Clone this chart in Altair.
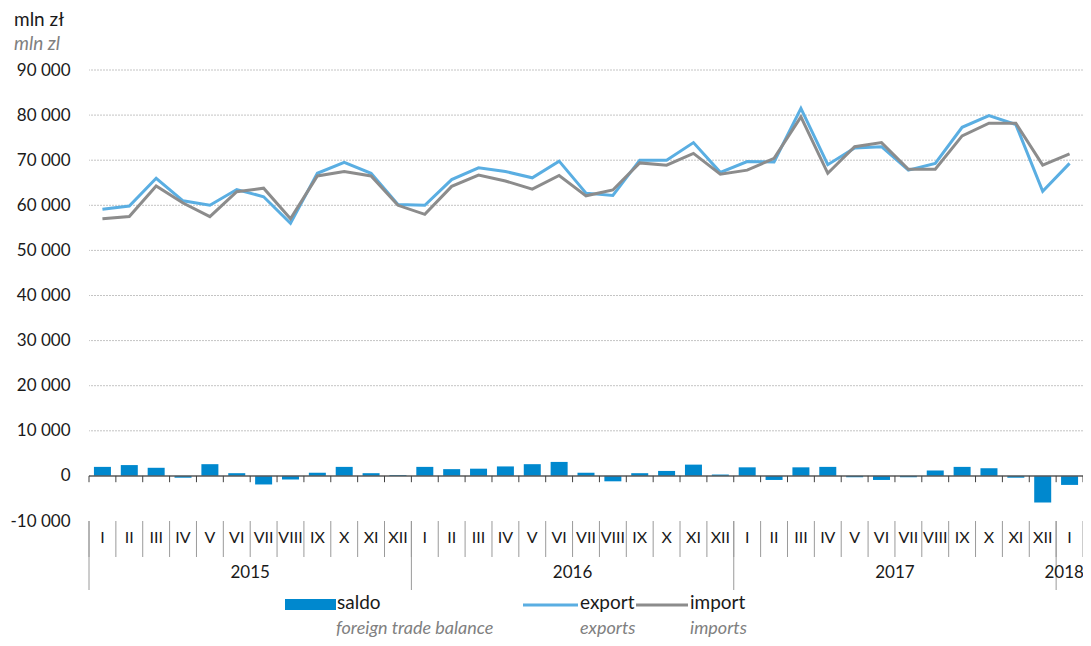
import altair as alt
import pandas as pd

# ---- data ----
months = ["I", "II", "III", "IV", "V", "VI", "VII", "VIII", "IX", "X", "XI", "XII"]
month_labels = months * 3 + ["I"]
years = ["2015", "2016", "2017", "2018"]
year_centers = [6, 18, 30, 36.3]
year_bounds = [0, 12, 24, 36]

export = [59100, 59850, 66000, 61000, 60000, 63500, 61900, 56000, 67100, 69500, 67100, 60200,
          60000, 65700, 68300, 67500, 66100, 69800, 62700, 62200, 70000, 70000, 73900, 67300,
          69700, 69600, 81500, 69000, 72700, 73000, 67800, 69300, 77300, 79900, 77900, 63100, 69300]
imports = [57000, 57500, 64300, 60500, 57500, 63000, 63800, 57000, 66500, 67500, 66500, 60000,
           58000, 64200, 66700, 65400, 63600, 66600, 62100, 63400, 69400, 68900, 71500, 66900,
           67800, 70400, 79600, 67100, 73000, 73900, 68000, 68000, 75400, 78200, 78200, 68900, 71400]
saldo = [2000, 2400, 1800, -400, 2600, 600, -1900, -800, 700, 2000, 600, 200,
         2000, 1500, 1600, 2100, 2600, 3100, 700, -1200, 600, 1100, 2500, 300,
         1900, -900, 1900, 2000, -300, -900, -300, 1200, 2000, 1700, -400, -5900, -2000]
y_ticks = list(range(-10000, 90001, 10000))
grid_values = list(range(10000, 90001, 10000))

# ---- styling ----
FONT = "Lato, sans-serif"
W, H = 994, 451
N = len(export)
C_BAR = "#0088CE"
C_EXP = "#5AAEE2"
C_IMP = "#8C8C8C"
C_TXT = "#1a1a1a"
C_IT = "#808080"

df = pd.DataFrame({"pos": [i + 0.5 for i in range(N)], "export": export,
                   "import": imports, "saldo": saldo, "month": month_labels})
bounds = pd.DataFrame({"k": list(range(N + 1))})
ybounds = pd.DataFrame({"k": year_bounds})
ydf = pd.DataFrame({"c": year_centers, "year": years})
gdf = pd.DataFrame({"g": grid_values})
one = pd.DataFrame({"a": [0]})

xs = alt.Scale(domain=[0, N], nice=False, zero=False, padding=0)
ys = alt.Scale(domain=[-10000, 90000], nice=False, zero=False, padding=0)

grid = alt.Chart(gdf).mark_rule(color="#C4C4C4", strokeWidth=1, strokeDash=[2, 1]).encode(
    y=alt.Y("g:Q", scale=ys))

bars = alt.Chart(df).mark_bar(size=17, color=C_BAR).encode(
    x=alt.X("pos:Q", scale=xs, axis=None),
    y=alt.Y("saldo:Q", scale=ys, axis=alt.Axis(
        values=y_ticks,
        labelExpr="(datum.value < 0 ? '-' : '') + replace(format(abs(datum.value), ','), ',', ' ')",
        domain=False, ticks=False, grid=False, labelPadding=19, labelFontSize=17,
        labelColor=C_TXT, labelFont=FONT, title=None)),
    y2=alt.datum(0))

zero = alt.Chart(one).mark_rule(color="#595959", strokeWidth=1.5).encode(
    y=alt.Y("a:Q", scale=ys))

zticks = alt.Chart(bounds).mark_rule(color="#404040", strokeWidth=1).encode(
    x=alt.X("k:Q", scale=xs), y=alt.datum(0), y2=alt.datum(-1400))

line_exp = alt.Chart(df).mark_line(color=C_EXP, strokeWidth=3).encode(
    x=alt.X("pos:Q", scale=xs), y=alt.Y("export:Q", scale=ys))
line_imp = alt.Chart(df).mark_line(color=C_IMP, strokeWidth=3).encode(
    x=alt.X("pos:Q", scale=xs), y=alt.Y("import:Q", scale=ys))

seps = alt.Chart(bounds).mark_rule(color="#9A9A9A", strokeWidth=1).encode(
    x=alt.X("k:Q", scale=xs), y=alt.value(H), y2=alt.value(H + 36))
yseps = alt.Chart(ybounds).mark_rule(color="#9A9A9A", strokeWidth=1).encode(
    x=alt.X("k:Q", scale=xs), y=alt.value(H), y2=alt.value(H + 69))

mlab = alt.Chart(df).mark_text(font=FONT, fontSize=16, color=C_TXT, baseline="middle").encode(
    x=alt.X("pos:Q", scale=xs), y=alt.value(H + 17), text="month:N")
ylab = alt.Chart(ydf).mark_text(font=FONT, fontSize=17, color=C_TXT, baseline="middle").encode(
    x=alt.X("c:Q", scale=xs), y=alt.value(H + 52), text="year:N")

# unit title
t1 = alt.Chart(one).mark_text(text="mln zł", font=FONT, fontSize=19, color=C_TXT,
                              align="left", baseline="middle").encode(x=alt.value(-75), y=alt.value(-50))
t2 = alt.Chart(one).mark_text(text="mln zl", font=FONT, fontSize=19, fontStyle="italic", color=C_IT,
                              align="left", baseline="middle").encode(x=alt.value(-75), y=alt.value(-26))

# legend
sw_y, lg_y, lg_y2 = 535, 533, 564
sw_bar = alt.Chart(one).mark_rect(color=C_BAR).encode(
    x=alt.value(196), x2=alt.value(247), y=alt.value(sw_y - 6), y2=alt.value(sw_y + 5))
sw_exp = alt.Chart(one).mark_rule(color=C_EXP, strokeWidth=3).encode(
    x=alt.value(434), x2=alt.value(489), y=alt.value(sw_y))
sw_imp = alt.Chart(one).mark_rule(color=C_IMP, strokeWidth=3).encode(
    x=alt.value(547), x2=alt.value(599), y=alt.value(sw_y))


def ltxt(txt, x, y, italic=False):
    return alt.Chart(one).mark_text(text=txt, font=FONT, fontSize=18 if italic else 19,
                                    fontStyle="italic" if italic else "normal",
                                    color=C_IT if italic else C_TXT,
                                    align="left",
                                    baseline="alphabetic" if italic else "middle").encode(
        x=alt.value(x), y=alt.value(y))


legend = [sw_bar, sw_exp, sw_imp,
          ltxt("saldo", 248, lg_y), ltxt("foreign trade balance", 247, lg_y2, True),
          ltxt("export", 491, lg_y), ltxt("exports", 491, lg_y2, True),
          ltxt("import", 601, lg_y), ltxt("imports", 601, lg_y2, True)]

chart = alt.layer(grid, bars, zero, zticks, line_exp, line_imp, seps, yseps, mlab, ylab,
                  t1, t2, *legend).properties(
    width=W, height=H,
    autosize=alt.AutoSizeParams(type="none"),
    padding={"left": 81, "top": 62, "right": 0, "bottom": 116},
).configure_view(strokeWidth=0)

chart.save("out.html", embed_options={"renderer": "svg", "actions": False})
